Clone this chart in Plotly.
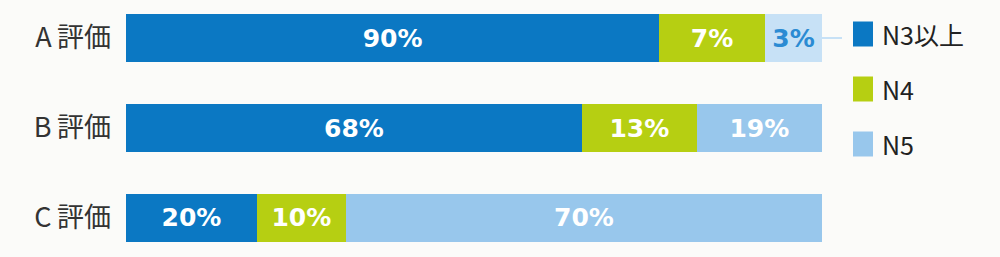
import plotly.graph_objects as go

# categories (top to bottom)
categories = ["A\u2009評価", "B\u2009評価", "C\u2009評価"]
series_names = ["N3以上", "N4", "N5"]

# percentages printed in the segments
label_pct = {
    "N3以上": [90, 68, 20],
    "N4": [7, 13, 10],
    "N5": [3, 19, 70],
}
# drawn segment lengths (share of full bar, %)
drawn_share = {
    "N3以上": [76.6, 65.5, 18.8],
    "N4": [15.2, 16.5, 12.8],
    "N5": [8.2, 18.0, 68.4],
}

colors = {"N3以上": "#0b78c3", "N4": "#b6cf12", "N5": "#98c7ec"}
pale = "#c7e1f6"
bg = "#fbfbf9"

y_pos = list(range(len(categories)))

fig = go.Figure()
for name in series_names:
    vals = drawn_share[name]
    mcols = [colors[name]] * len(vals)
    tcols = ["white"] * len(vals)
    if name == "N5":
        mcols[0] = pale
        tcols[0] = "#2b8bd3"
    fig.add_trace(go.Bar(
        name=name,
        y=y_pos,
        x=vals,
        orientation="h",
        width=0.533,
        marker=dict(color=mcols, line=dict(width=0)),
        text=[f"{v}%" for v in label_pct[name]],
        textposition="inside",
        insidetextanchor="middle",
        textangle=0,
        textfont=dict(color=tcols, size=25, family="DejaVu Sans", weight="bold"),
        constraintext="none",
        showlegend=False,
        hoverinfo="skip",
    ))

# custom legend (squares + names)
leg_x0, leg_x1 = 853, 873
leg_y = [34, 89, 144]
for name, yc in zip(series_names, leg_y):
    fig.add_shape(type="rect", xref="paper", yref="paper",
                  x0=(leg_x0 - 126) / 696, x1=(leg_x1 - 126) / 696,
                  y0=(242 - (yc + 12.5)) / 228, y1=(242 - (yc - 12.5)) / 228,
                  fillcolor=colors[name], line=dict(width=0))
    fig.add_annotation(xref="paper", yref="paper",
                       x=(880 - 126) / 696, y=(242 - yc) / 228,
                       xanchor="left", yanchor="middle", showarrow=False,
                       text=name, font=dict(size=25, color="#222222", family="Noto Sans CJK JP"))

# leader line from 3% segment toward legend
fig.add_shape(type="line", xref="paper", yref="paper",
              x0=1.0, x1=(842 - 126) / 696, y0=(242 - 38) / 228, y1=(242 - 38) / 228,
              line=dict(color=pale, width=2))

fig.update_layout(
    barmode="stack",
    width=1000, height=257,
    margin=dict(l=126, r=178, t=14, b=15),
    paper_bgcolor=bg, plot_bgcolor=bg,
    xaxis=dict(range=[0, 100], visible=False, fixedrange=True),
    yaxis=dict(range=[2.2667, -0.2667], tickvals=y_pos, ticktext=categories,
               showgrid=False, zeroline=False, showline=False, ticks="",
               ticklabelstandoff=14,
               tickfont=dict(size=27, color="#333333", family="Noto Sans CJK JP")),
    uniformtext=dict(minsize=10, mode="show"),
)

fig.write_html("out.html")
